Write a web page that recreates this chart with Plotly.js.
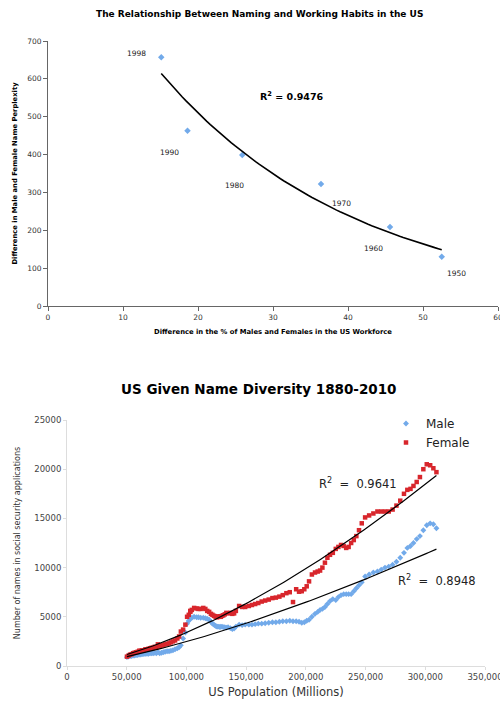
<!DOCTYPE html>
<html><head><meta charset="utf-8">
<script src="https://cdn.plot.ly/plotly-3.0.1.min.js"></script>
<style>html,body{margin:0;padding:0;background:#fff}#chart{width:500px;height:702px}</style>
</head><body><div id="chart"></div>
<script>
// ---- Top chart data ----
var topYears = ["1998","1990","1980","1970","1960","1950"];
var topX = [15.1, 18.6, 25.9, 36.4, 45.6, 52.5];
var topY = [657, 463, 399, 322, 209, 130];
var topR2 = "0.9476";

// ---- Bottom chart data (1880-2010) ----
var popYears = [];
for (var yr = 1880; yr <= 2010; yr++) popYears.push(yr);
var population = [
50189,51542,52821,54100,55379,56658,57938,59217,60496,61775,
63056,64361,65666,66970,68275,69580,70885,72189,73494,74799,
76094,77584,79163,80632,82166,83822,85450,87008,88710,90490,
92407,93863,95335,97225,99111,100546,101961,103268,103208,104514,
106461,108538,110049,111947,114109,115829,117397,119035,120509,121767,
123077,124040,124840,125579,126374,127250,128053,128825,129825,130880,
132122,133402,134860,136739,138397,139928,141389,144126,146631,149188,
152271,154878,157553,160184,163026,165931,168903,171984,174882,177830,
180671,183691,186538,189242,191889,194303,196560,198712,200706,202677,
205052,207661,209896,211909,213854,215973,218035,220239,222585,225055,
227225,229466,231664,233792,235825,237924,240133,242289,244499,246819,
249623,252981,256514,259919,263126,266278,269394,272647,275854,279040,
282162,284969,287625,290108,292805,295517,298380,301231,304094,306772,
309330];
var maleNames = [
900,950,1000,1000,1050,1050,1100,1100,1150,1150,
1200,1200,1250,1250,1250,1300,1300,1300,1350,1300,
1400,1300,1350,1400,1450,1500,1500,1550,1600,1700,
1800,1900,2100,2800,3400,4300,4600,4800,4850,4900,
5000,4950,4950,4900,4900,4850,4800,4700,4500,4300,
4200,4100,4050,4000,4000,4000,3950,4000,4000,3950,
3950,3900,3950,3850,3750,3800,4000,4200,4150,4200,
4200,4200,4250,4300,4300,4350,4400,4450,4450,4500,
4550,4550,4600,4550,4550,4500,4400,4450,4600,4700,
5000,5300,5500,5700,5800,6000,6300,6600,6800,6700,
7000,7200,7300,7300,7300,7300,7600,7900,8200,8500,
9100,9300,9500,9600,9800,10000,10100,10300,10600,11000,
11500,12000,12200,12500,12900,13200,13800,14300,14500,14400,
14000];
var femaleNames = [
950,1050,1150,1200,1300,1350,1400,1450,1550,1550,
1600,1600,1700,1700,1750,1800,1850,1850,1950,1900,
2200,2000,2100,2100,2200,2250,2300,2400,2500,2600,
2800,3000,3500,3700,4200,5000,5200,5500,5600,5700,
5900,5850,5800,5800,5900,5800,5600,5500,5300,5200,
5100,5050,5000,4950,5000,5000,5050,5000,5100,5150,
5250,5400,5350,5400,5300,5350,5600,6100,6000,6000,
6100,6200,6300,6400,6550,6650,6750,6900,6950,7050,
7200,7400,7500,6500,7800,7550,7600,7800,8100,8600,
9300,9500,9600,9700,10000,10500,11000,11300,11500,11900,
12100,12300,12200,12000,12100,12500,12800,13200,13800,14500,
15100,15300,15500,15700,15700,15700,15700,15900,16300,16800,
17500,17900,18000,18300,18700,19200,20000,20500,20400,20100,
19700];
var maleR2 = "0.8948";
var femaleR2 = "0.9641";

// ---- fitted trendlines ----
function expFit(xs, ys) {
  var n = xs.length, mx = 0, my = 0;
  for (var i = 0; i < n; i++) { mx += xs[i]; my += Math.log(ys[i]); }
  mx /= n; my /= n;
  var sxy = 0, sxx = 0;
  for (i = 0; i < n; i++) { sxy += (xs[i]-mx)*(Math.log(ys[i])-my); sxx += (xs[i]-mx)*(xs[i]-mx); }
  var b = sxy/sxx, a = Math.exp(my - b*mx);
  return function(x){ return a*Math.exp(b*x); };
}
function powFit(xs, ys) {
  var lx = xs.map(Math.log);
  var f = expFit(lx, ys);
  return function(x){ return f(Math.log(x)); };
}
function curve(f, x0, x1, n) {
  var X = [], Y = [];
  for (var i = 0; i <= n; i++) { var x = x0 + (x1-x0)*i/n; X.push(x); Y.push(f(x)); }
  return {x: X, y: Y};
}
var tMin = Math.min.apply(null, topX), tMax = Math.max.apply(null, topX);
var topTrend = curve(expFit(topX, topY), tMin, tMax, 80);
var pMin = Math.min.apply(null, population), pMax = Math.max.apply(null, population);
var maleTrend = curve(powFit(population, maleNames), pMin, pMax, 120);
var femaleTrend = curve(powFit(population, femaleNames), pMin, pMax, 120);

var FONT = "DejaVu Sans, Verdana, sans-serif";
var blue = "#72aaea", red = "#d8262c";

var traces = [
  {x: topX, y: topY, type: "scatter", mode: "markers", xaxis: "x", yaxis: "y",
   marker: {symbol: "diamond", size: 5, color: blue}, showlegend: false, hoverinfo: "skip"},
  {x: topTrend.x, y: topTrend.y, type: "scatter", mode: "lines", xaxis: "x", yaxis: "y",
   line: {color: "#000", width: 1.6}, showlegend: false, hoverinfo: "skip"},
  {x: population, y: maleNames, type: "scatter", mode: "markers", xaxis: "x2", yaxis: "y2",
   name: "Male", marker: {symbol: "diamond", size: 4.5, color: blue}},
  {x: population, y: femaleNames, type: "scatter", mode: "markers", xaxis: "x2", yaxis: "y2",
   name: "Female", marker: {symbol: "square", size: 4.5, color: red}},
  {x: femaleTrend.x, y: femaleTrend.y, type: "scatter", mode: "lines", xaxis: "x2", yaxis: "y2",
   line: {color: "#000", width: 1.2}, showlegend: false, hoverinfo: "skip"},
  {x: maleTrend.x, y: maleTrend.y, type: "scatter", mode: "lines", xaxis: "x2", yaxis: "y2",
   line: {color: "#000", width: 1.2}, showlegend: false, hoverinfo: "skip"}
];

// label offsets (pixels) for year labels in top chart
var labelShift = [[-25,4],[-18,-22],[-8,-31],[20,-19],[-17,-22],[15,-17]];
var annotations = [];
for (var i = 0; i < topYears.length; i++) {
  annotations.push({x: topX[i], y: topY[i], xref: "x", yref: "y", text: topYears[i], showarrow: false,
    xanchor: "center", yanchor: "middle",
    xshift: labelShift[i][0], yshift: labelShift[i][1], font: {family: FONT, size: 7.5, color: "#222"}});
}
function paperNote(px, py, text, size, color) {
  annotations.push({x: px/500, y: 1-py/702, xref: "paper", yref: "paper", showarrow: false,
    xanchor: "center", yanchor: "middle", text: text, font: {family: FONT, size: size, color: color}});
}
paperNote(259, 14, "<b>The Relationship Between Naming and Working Habits in the US</b>", 9, "#000");
paperNote(292, 96, "<b>R<sup>2</sup> = " + topR2 + "</b>", 9.5, "#000");
paperNote(259, 389, "<b>US Given Name Diversity 1880-2010</b>", 13.5, "#000");
paperNote(358, 483, "R<sup>2</sup>  =  " + femaleR2, 11.5, "#222");
paperNote(437, 580, "R<sup>2</sup>  =  " + maleR2, 11.5, "#222");

var layout = {
  width: 500, height: 702,
  margin: {l: 0, r: 0, t: 0, b: 0},
  paper_bgcolor: "#fff", plot_bgcolor: "rgba(0,0,0,0)",
  font: {family: FONT},
  xaxis: {domain: [48/500, 498/500], anchor: "y", range: [0, 60], dtick: 10, tick0: 0,
    showgrid: false, zeroline: false, showline: true, linecolor: "#666", linewidth: 1,
    ticklabeloverflow: "allow",
    ticks: "outside", ticklen: 4, tickcolor: "#666", tickfont: {family: FONT, size: 7.5, color: "#333"},
    title: {text: "<b>Difference in the % of Males and Females in the US Workforce</b>", standoff: 8,
      font: {family: FONT, size: 6.8, color: "#000"}}},
  yaxis: {domain: [(702-306)/702, (702-41)/702], anchor: "x", range: [0, 700], dtick: 100,
    showgrid: false, zeroline: false, showline: true, linecolor: "#666", linewidth: 1,
    ticks: "outside", ticklen: 4, tickcolor: "#666", tickfont: {family: FONT, size: 7.5, color: "#333"},
    title: {text: "<b>Difference in Male and Female Name Perplexity</b>", standoff: 8,
      font: {family: FONT, size: 6.8, color: "#000"}}},
  xaxis2: {domain: [67/500, 485/500], anchor: "y2", range: [0, 350000], dtick: 50000, tick0: 0,
    tickformat: ",d", showgrid: false, zeroline: false, showline: true, linecolor: "#ddd", linewidth: 1,
    ticklabeloverflow: "allow",
    ticks: "outside", ticklen: 3, tickcolor: "#ddd", tickfont: {family: FONT, size: 8.5, color: "#444"},
    title: {text: "US Population (Millions)", standoff: 6, font: {family: FONT, size: 11.5, color: "#333"}}},
  yaxis2: {domain: [(702-666)/702, (702-420)/702], anchor: "x2", range: [0, 25000], dtick: 5000,
    tickformat: "d", showgrid: false, zeroline: false, showline: true, linecolor: "#ddd", linewidth: 1,
    ticks: "outside", ticklen: 3, tickcolor: "#ddd", tickfont: {family: FONT, size: 8.5, color: "#444"},
    title: {text: "Number of names in social security applications", standoff: 12,
      font: {family: FONT, size: 8, color: "#333"}}},
  showlegend: true,
  legend: {x: 386/500, y: 1-409/702, xanchor: "left", yanchor: "top", bgcolor: "rgba(0,0,0,0)",
    font: {family: FONT, size: 12, color: "#222"}, itemwidth: 30, tracegroupgap: 0},
  annotations: annotations
};
Plotly.newPlot("chart", traces, layout, {displayModeBar: false, staticPlot: true});
</script></body></html>
